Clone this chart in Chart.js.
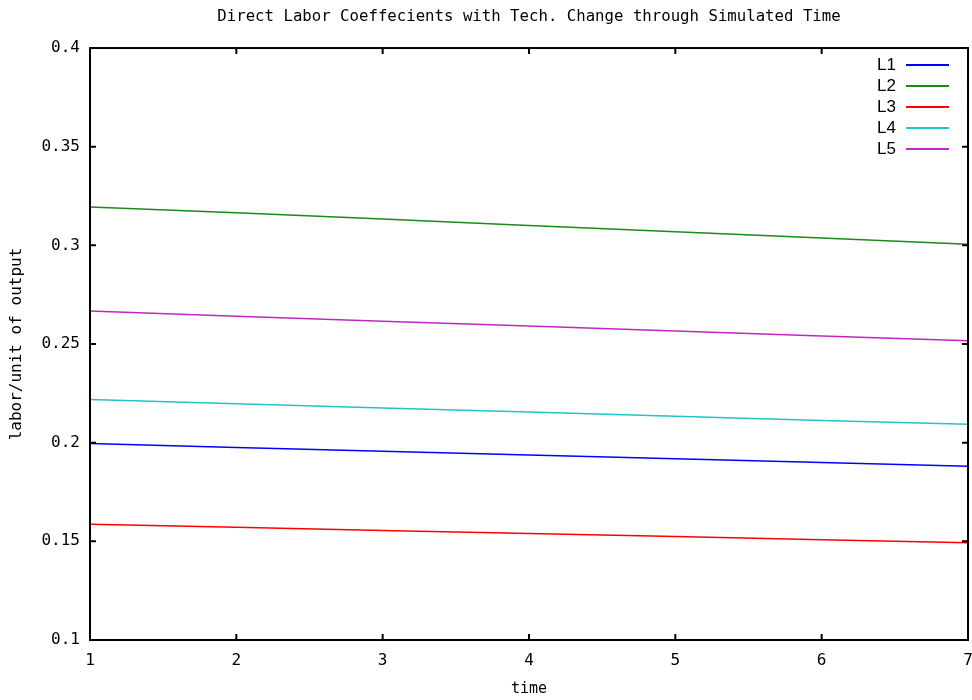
<!DOCTYPE html>
<html>
<head>
<meta charset="utf-8">
<script src="https://cdn.jsdelivr.net/npm/chart.js@4.4.1/dist/chart.umd.min.js"></script>
<style>
  html, body { margin: 0; padding: 0; background: #ffffff; }
  #wrap { width: 972px; height: 700px; position: relative; }
</style>
</head>
<body>
<div id="wrap"><canvas id="c" width="972" height="700"></canvas></div>
<script>
// ---- data ----
const times = [1, 2, 3, 4, 5, 6, 7];
const L1 = [0.1996, 0.1976, 0.1957, 0.1938, 0.1919, 0.1900, 0.1881];
const L2 = [0.3195, 0.3165, 0.3133, 0.3101, 0.3069, 0.3037, 0.3005];
const L3 = [0.1587, 0.1571, 0.1555, 0.1540, 0.1524, 0.1508, 0.1493];
const L4 = [0.2219, 0.2197, 0.2176, 0.2155, 0.2134, 0.2113, 0.2094];
const L5 = [0.2667, 0.2641, 0.2616, 0.2591, 0.2566, 0.2541, 0.2517];
const seriesNames = ['L1', 'L2', 'L3', 'L4', 'L5'];
const seriesValues = [L1, L2, L3, L4, L5];
const seriesColors = ['#0000ff', '#1a8a1a', '#ff0000', '#22c4c4', '#c424c4'];
const xTicks = [1, 2, 3, 4, 5, 6, 7];
const yTicks = [0.1, 0.15, 0.2, 0.25, 0.3, 0.35, 0.4];
const titleText = 'Direct Labor Coeffecients with Tech. Change through Simulated Time';
const xTitle = 'time';
const yTitle = 'labor/unit of output';

const monoFont = 'DejaVu Sans Mono';

const datasets = seriesNames.map((name, i) => ({
  label: name,
  data: times.map((t, j) => ({ x: t, y: seriesValues[i][j] })),
  borderColor: seriesColors[i],
  backgroundColor: seriesColors[i],
  borderWidth: 1.5,
  pointRadius: 0,
  tension: 0,
  fill: false
}));

function fmtY(v) {
  return String(+v.toFixed(2));
}

const framePlugin = {
  id: 'frame',
  afterDatasetsDraw(chart) {
    const ctx = chart.ctx;
    const a = chart.chartArea;
    const xs = chart.scales.x, ys = chart.scales.y;
    ctx.save();
    ctx.strokeStyle = '#000';
    ctx.lineWidth = 2;
    ctx.strokeRect(a.left, a.top, a.right - a.left, a.bottom - a.top);
    const tl = 6;
    ctx.beginPath();
    xTicks.forEach(v => {
      const px = xs.getPixelForValue(v);
      ctx.moveTo(px, a.bottom); ctx.lineTo(px, a.bottom - tl);
      ctx.moveTo(px, a.top); ctx.lineTo(px, a.top + tl);
    });
    yTicks.forEach(v => {
      const py = ys.getPixelForValue(v);
      ctx.moveTo(a.left, py); ctx.lineTo(a.left + tl, py);
      ctx.moveTo(a.right, py); ctx.lineTo(a.right - tl, py);
    });
    ctx.stroke();

    // legend inside plot, top-right
    ctx.font = '17px "Liberation Sans"';
    ctx.textAlign = 'right';
    ctx.textBaseline = 'middle';
    chart.data.datasets.forEach((ds, i) => {
      const y = 65 + i * 21;
      ctx.fillStyle = '#000';
      ctx.fillText(ds.label, 896, y);
      ctx.strokeStyle = ds.borderColor;
      ctx.lineWidth = 2;
      ctx.beginPath();
      ctx.moveTo(906, y);
      ctx.lineTo(949, y);
      ctx.stroke();
    });
    ctx.restore();
  }
};

new Chart(document.getElementById('c'), {
  type: 'line',
  data: { datasets },
  options: {
    responsive: false,
    animation: false,
    layout: { padding: { left: 0, right: 4, top: 0, bottom: 0 } },
    plugins: {
      legend: { display: false },
      tooltip: { enabled: false },
      title: {
        display: true,
        text: titleText,
        fullSize: false,
        color: '#000',
        font: { family: monoFont, size: 15.7, weight: 'normal', lineHeight: 1.2 },
        padding: { top: 8, bottom: 21.2 }
      }
    },
    scales: {
      x: {
        type: 'linear',
        min: 1, max: 7,
        afterBuildTicks: s => { s.ticks = xTicks.map(v => ({ value: v })); },
        afterFit: s => { s.height = 60; s.paddingLeft = 0; s.paddingRight = 0; },
        grid: { display: false, drawTicks: false },
        border: { display: false },
        ticks: {
          color: '#000',
          padding: 11,
          maxRotation: 0,
          font: { family: monoFont, size: 16, lineHeight: 1.2 },
          callback: v => String(v)
        },
        title: {
          display: true, text: xTitle, color: '#000',
          font: { family: monoFont, size: 15, lineHeight: 1.2 },
          padding: { top: 0, bottom: 2 }
        }
      },
      y: {
        type: 'linear',
        min: 0.1, max: 0.4,
        afterBuildTicks: s => { s.ticks = yTicks.map(v => ({ value: v })); },
        afterFit: s => { s.width = 90; s.paddingTop = 0; s.paddingBottom = 0; },
        grid: { display: false, drawTicks: false },
        border: { display: false },
        ticks: {
          color: '#000',
          padding: 10,
          font: { family: monoFont, size: 16, lineHeight: 1.2 },
          callback: v => fmtY(v)
        },
        title: {
          display: true, text: yTitle, color: '#000',
          font: { family: monoFont, size: 16, lineHeight: 1.2 },
          padding: { top: 7, bottom: 0 }
        }
      }
    }
  },
  plugins: [framePlugin]
});
</script>
</body>
</html>
